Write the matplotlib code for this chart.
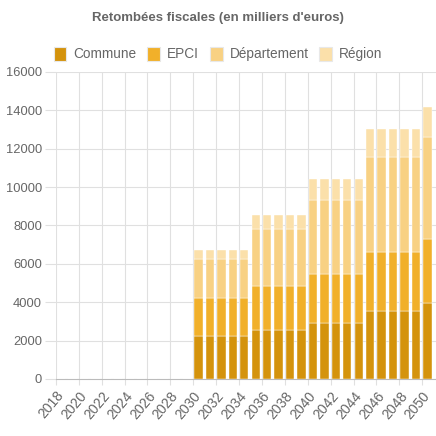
import matplotlib.pyplot as plt
from matplotlib.patches import Patch

plt.rcParams['font.family'] = ['Liberation Sans', 'DejaVu Sans']

years = list(range(2018, 2051))
zeros = [0] * 12
# values per 5-year step (2030-34, 2035-39, 2040-44, 2045-49, 2050)
commune_steps = [2243, 2574, 2887, 3513, 3930]
epci_steps = [1983, 2278, 2556, 3095, 3357]
dept_steps = [2035, 2939, 3861, 4974, 5338]
region_steps = [452, 766, 1096, 1461, 1548]

def expand(steps):
    vals = []
    for s in steps[:4]:
        vals += [s] * 5
    return zeros + vals + [steps[4]]

commune = expand(commune_steps)
epci = expand(epci_steps)
dept = expand(dept_steps)
region = expand(region_steps)

labels = ['Commune', 'EPCI', 'Département', 'Région']
colors = ['#D4930C', '#F1B02A', '#F8D183', '#FBE0AA']

fig = plt.figure(figsize=(4.36, 4.36), dpi=100)
ax = fig.add_axes([0.128, 0.131, 0.872, 0.704])

x = [y + 0.09 for y in years]
bottom = [0] * len(years)
for vals, c in zip([commune, epci, dept, region], colors):
    ax.bar(x, vals, width=0.73, bottom=bottom, color=c, align='edge',
           edgecolor='white', linewidth=0.3, zorder=3)
    bottom = [b + v for b, v in zip(bottom, vals)]

ax.set_xlim(2018, 2051.2)
ax.set_ylim(0, 16000)
ax.set_xticks(range(2018, 2051, 2))
ax.set_xticklabels([str(y) for y in range(2018, 2051, 2)], rotation=50,
                   ha='right', rotation_mode='anchor', fontsize=10, color='#666666')
ax.set_yticks(range(0, 16001, 2000))
ax.set_yticklabels([str(v) for v in range(0, 16001, 2000)], fontsize=9.3, color='#666666')
ax.grid(True, color='#e0e0e0', linewidth=0.8, zorder=0)
ax.tick_params(axis='y', length=8, color='#e0e0e0', pad=2)
ax.tick_params(axis='x', length=4, color='#e0e0e0', pad=3)
for s in ['top', 'right', 'left']:
    ax.spines[s].set_visible(False)
ax.spines['bottom'].set_color('#bbbbbb')

fig.text(0.5, 0.958, "Retombées fiscales (en milliers d'euros)", ha='center', va='center',
         fontsize=9.5, fontweight='bold', color='#666666')

handles = [Patch(facecolor=c, edgecolor='#e8e8e8', linewidth=0.8) for c in colors]
fig.legend(handles, labels, loc='center', bbox_to_anchor=(0.5, 0.876), ncol=4,
           frameon=False, fontsize=9.8, labelcolor='#666666', handlelength=0.95,
           handleheight=1.2, handletextpad=0.5, columnspacing=0.8)

plt.savefig('out.png', dpi=100)
